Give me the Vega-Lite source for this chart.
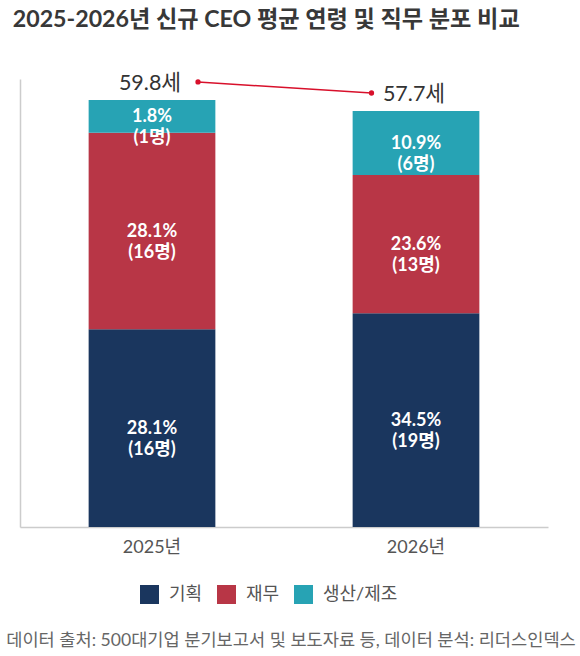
{
  "$schema": "https://vega.github.io/schema/vega-lite/v6.json",
  "width": 528,
  "height": 448,
  "autosize": "none",
  "padding": {"left": 20, "top": 79, "right": 32, "bottom": 129},
  "background": "white",
  "title": {
    "text": "2025-2026년 신규 CEO 평균 연령 및 직무 분포 비교",
    "anchor": "start",
    "dx": 7,
    "offset": 41,
    "fontSize": 23.2,
    "fontWeight": "bold",
    "color": "#383838",
    "font": "Lato, Noto Sans CJK KR, sans-serif"
  },
  "datasets": {
    "segments": [
      {"year": "2025년", "role": "기획", "value": 27.8, "pct": 28.1, "n": 16},
      {"year": "2025년", "role": "재무", "value": 27.65, "pct": 28.1, "n": 16},
      {"year": "2025년", "role": "생산/제조", "value": 4.6, "pct": 1.8, "n": 1},
      {"year": "2026년", "role": "기획", "value": 30.05, "pct": 34.5, "n": 19},
      {"year": "2026년", "role": "재무", "value": 19.45, "pct": 23.6, "n": 13},
      {"year": "2026년", "role": "생산/제조", "value": 9.0, "pct": 10.9, "n": 6}
    ],
    "ages": [
      {"year": "2025년", "age": 59.8},
      {"year": "2026년", "age": 57.7}
    ]
  },
  "encoding": {
    "x": {
      "field": "year",
      "type": "nominal",
      "scale": {"paddingInner": 0.52, "paddingOuter": 0.26},
      "axis": {
        "title": "데이터 출처: 500대기업 분기보고서 및 보도자료 등, 데이터 분석: 리더스인덱스",
        "titleX": 270.5,
        "titleY": 113,
        "titleBaseline": "middle",
        "titleAlign": "center",
        "titleFontSize": 17.6,
        "titleFontWeight": "normal",
        "titleColor": "#666666",
        "labelAngle": 0,
        "labelFontSize": 18,
        "labelColor": "#555555",
        "labelPadding": 11,
        "ticks": false,
        "domainColor": "#cccccc",
        "domainWidth": 1.5
      }
    }
  },
  "layer": [
    {
      "data": {"name": "segments"},
      "transform": [
        {"calculate": "indexof(['기획','재무','생산/제조'], datum.role)", "as": "ord"}
      ],
      "mark": {"type": "bar"},
      "encoding": {
        "y": {
          "field": "value",
          "type": "quantitative",
          "stack": "zero",
          "scale": {"domain": [0, 63], "nice": false},
          "axis": {
            "title": null,
            "labels": false,
            "ticks": false,
            "grid": false,
            "domainColor": "#cccccc",
            "domainWidth": 1.5
          }
        },
        "order": {"field": "ord", "type": "quantitative"},
        "color": {
          "field": "role",
          "type": "nominal",
          "scale": {
            "domain": ["기획", "재무", "생산/제조"],
            "range": ["#1a365e", "#b83646", "#27a3b4"]
          },
          "legend": {
            "title": null,
            "orient": "none",
            "direction": "horizontal",
            "legendX": 120,
            "legendY": 506,
            "symbolType": "square",
            "symbolSize": 361,
            "symbolStrokeWidth": 0,
            "symbolOpacity": 1,
            "labelFontSize": 18,
            "labelColor": "#555555",
            "labelOffset": 10,
            "columnPadding": 14
          }
        }
      }
    },
    {
      "data": {"name": "segments"},
      "transform": [
        {"calculate": "indexof(['기획','재무','생산/제조'], datum.role)", "as": "ord"},
        {"calculate": "[format(datum.pct, '.1f') + '%', '(' + datum.n + '명)']", "as": "label"}
      ],
      "mark": {
        "type": "text",
        "color": "white",
        "fontSize": 18,
        "fontWeight": "bold",
        "lineHeight": 21,
        "baseline": "middle",
        "dy": 1
      },
      "encoding": {
        "y": {"field": "value", "type": "quantitative", "stack": "zero", "bandPosition": 0.5},
        "order": {"field": "ord", "type": "quantitative"},
        "text": {"field": "label"}
      }
    },
    {
      "data": {"name": "segments"},
      "transform": [
        {"aggregate": [{"op": "sum", "field": "value", "as": "total"}], "groupby": ["year"]},
        {"lookup": "year", "from": {"data": {"name": "ages"}, "key": "year", "fields": ["age"]}},
        {"calculate": "format(datum.age, '.1f') + '세'", "as": "agelabel"}
      ],
      "layer": [
        {
          "mark": {"type": "text", "fontSize": 21.5, "color": "#333333", "baseline": "middle", "dy": -16, "dx": -2},
          "encoding": {
            "y": {"field": "total", "type": "quantitative"},
            "text": {"field": "agelabel"}
          }
        },
        {
          "transform": [
            {"pivot": "year", "value": "total"}
          ],
          "mark": {"type": "rule", "color": "#d8102b", "strokeWidth": 1.5, "xOffset": 46, "x2Offset": -44.5, "yOffset": -18, "y2Offset": -18},
          "encoding": {
            "x": {"datum": "2025년"},
            "x2": {"datum": "2026년"},
            "y": {"field": "2025년", "type": "quantitative"},
            "y2": {"field": "2026년"}
          }
        },
        {
          "transform": [{"filter": "datum.year == '2025년'"}],
          "mark": {"type": "circle", "color": "#d8102b", "opacity": 1, "size": 28, "xOffset": 46, "yOffset": -18},
          "encoding": {
            "y": {"field": "total", "type": "quantitative"}
          }
        },
        {
          "transform": [{"filter": "datum.year == '2026년'"}],
          "mark": {"type": "circle", "color": "#d8102b", "opacity": 1, "size": 28, "xOffset": -44.5, "yOffset": -18},
          "encoding": {
            "y": {"field": "total", "type": "quantitative"}
          }
        }
      ]
    }
  ],
  "config": {
    "font": "Lato, Noto Sans CJK KR, sans-serif",
    "view": {"stroke": null}
  }
}
